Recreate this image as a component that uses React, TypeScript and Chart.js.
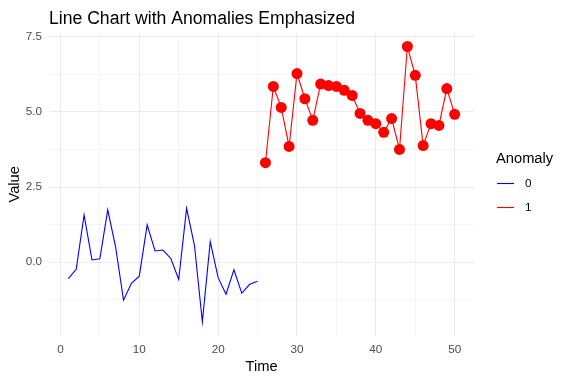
import { useEffect, useRef } from "react";
import { Chart, registerables } from "chart.js";

Chart.register(...registerables);

const normalTime = [1, 2, 3, 4, 5, 6, 7, 8, 9, 10, 11, 12, 13, 14, 15, 16, 17, 18, 19, 20, 21, 22, 23, 24, 25];
const normalValues = [-0.55, -0.24, 1.57, 0.07, 0.11, 1.74, 0.5, -1.27, -0.71, -0.47, 1.24, 0.37, 0.4, 0.12, -0.58, 1.79, 0.55, -1.99, 0.68, -0.52, -1.07, -0.26, -1.04, -0.74, -0.64];
const anomalyTime = [26, 27, 28, 29, 30, 31, 32, 33, 34, 35, 36, 37, 38, 39, 40, 41, 42, 43, 44, 45, 46, 47, 48, 49, 50];
const anomalyValues = [3.31, 5.85, 5.15, 3.85, 6.28, 5.44, 4.72, 5.93, 5.88, 5.85, 5.72, 5.55, 4.95, 4.72, 4.61, 4.32, 4.78, 3.75, 7.18, 6.22, 3.88, 4.61, 4.55, 5.78, 4.92];

const xMajorTicks = [0, 10, 20, 30, 40, 50];
const xMinorTicks = [5, 15, 25, 35, 45];
const yMajorTicks = [0, 2.5, 5, 7.5];
const yMinorTicks = [-1.25, 1.25, 3.75, 6.25];

const chartTitle = "Line Chart with Anomalies Emphasized";
const xTitle = "Time";
const yTitle = "Value";
const legendTitle = "Anomaly";
const seriesLabels = ["0", "1"];
const seriesColors = ["#0000FF", "#FF0000"];

const FONT = "'Liberation Sans', Arial, sans-serif";

const overlayPlugin = {
  id: "ggOverlay",
  afterDraw(chart: any) {
    const ctx = chart.ctx;
    const area = chart.chartArea;
    ctx.save();
    // title
    ctx.fillStyle = "#000000";
    ctx.font = `17.6px ${FONT}`;
    ctx.textAlign = "left";
    ctx.textBaseline = "alphabetic";
    ctx.fillText(chartTitle, area.left, 23.5);
    // legend
    const lx = area.right + 22;
    ctx.font = `14.7px ${FONT}`;
    ctx.fillText(legendTitle, lx, 163);
    chart.data.datasets.forEach((ds: any, i: number) => {
      const y = 183.5 + i * 24;
      ctx.strokeStyle = ds.borderColor;
      ctx.lineWidth = 1.1;
      ctx.beginPath();
      ctx.moveTo(lx + 1, y);
      ctx.lineTo(lx + 18, y);
      ctx.stroke();
      ctx.fillStyle = "#000000";
      ctx.font = `11.7px ${FONT}`;
      ctx.textBaseline = "middle";
      ctx.fillText(ds.label, lx + 29, y);
      ctx.textBaseline = "alphabetic";
    });
    ctx.restore();
  },
};

export default function App() {
  const ref = useRef<HTMLCanvasElement | null>(null);

  useEffect(() => {
    if (!ref.current) return;
    const chart = new Chart(ref.current, {
      type: "line",
      data: {
        datasets: [
          {
            label: seriesLabels[0],
            data: normalTime.map((t, i) => ({ x: t, y: normalValues[i] })),
            borderColor: seriesColors[0],
            backgroundColor: seriesColors[0],
            borderWidth: 1.1,
            pointRadius: 0,
            tension: 0,
          },
          {
            label: seriesLabels[1],
            data: anomalyTime.map((t, i) => ({ x: t, y: anomalyValues[i] })),
            borderColor: seriesColors[1],
            backgroundColor: seriesColors[1],
            borderWidth: 1.1,
            pointRadius: 5.5,
            pointBorderWidth: 0,
            pointBackgroundColor: seriesColors[1],
            tension: 0,
          },
        ],
      },
      options: {
        responsive: false,
        animation: false,
        layout: { padding: { top: 33, right: 92, bottom: 0, left: 0 } },
        plugins: {
          legend: { display: false },
          title: { display: false },
          tooltip: { enabled: false },
        },
        scales: {
          x: {
            type: "linear",
            min: -1.45,
            max: 52.45,
            afterBuildTicks: (s: any) => {
              s.ticks = [...xMajorTicks, ...xMinorTicks].sort((a, b) => a - b).map((v) => ({ value: v }));
            },
            afterFit: (s: any) => {
              s.height = 44.4;
            },
            border: { display: false },
            grid: {
              drawTicks: false,
              color: "#EBEBEB",
              lineWidth: (c: any) => (xMajorTicks.includes(c.tick?.value) ? 1 : 0.5),
            },
            ticks: {
              autoSkip: false,
              maxRotation: 0,
              padding: 7.5,
              color: "#4D4D4D",
              font: { family: FONT, size: 11.7 },
              callback: (v: any) => (xMajorTicks.includes(v) ? String(v) : ""),
            },
            title: {
              display: true,
              text: xTitle,
              color: "#000000",
              font: { family: FONT, size: 14.7 },
              padding: { top: 0, bottom: 4 },
            },
          },
          y: {
            type: "linear",
            min: -2.45,
            max: 7.63,
            afterBuildTicks: (s: any) => {
              s.ticks = [...yMajorTicks, ...yMinorTicks].sort((a, b) => a - b).map((v) => ({ value: v }));
            },
            afterFit: (s: any) => {
              s.width = 49;
            },
            border: { display: false },
            grid: {
              drawTicks: false,
              color: "#EBEBEB",
              lineWidth: (c: any) => (yMajorTicks.includes(c.tick?.value) ? 1 : 0.5),
            },
            ticks: {
              autoSkip: false,
              padding: 7,
              color: "#4D4D4D",
              font: { family: FONT, size: 11.7 },
              callback: (v: any) => (yMajorTicks.includes(v) ? Number(v).toFixed(1) : ""),
            },
            title: {
              display: true,
              text: yTitle,
              color: "#000000",
              font: { family: FONT, size: 14.7 },
              padding: { top: 6, bottom: 0 },
            },
          },
        },
      },
      plugins: [overlayPlugin],
    });
    return () => chart.destroy();
  }, []);

  return (
    <div style={{ position: "absolute", left: 0, top: 0, width: 566, height: 380, background: "#FFFFFF" }}>
      <canvas ref={ref} width={566} height={380} style={{ display: "block" }} />
    </div>
  );
}
